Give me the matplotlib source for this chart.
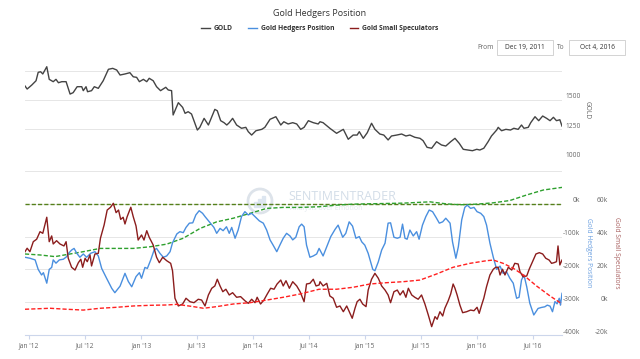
import matplotlib
matplotlib.use("Agg")
import matplotlib.pyplot as plt
import matplotlib.dates as mdates
from matplotlib.patches import Rectangle, Circle
from matplotlib.transforms import ScaledTranslation
import pandas as pd

plt.rcParams['font.family'] = ['Open Sans', 'DejaVu Sans']

# ---------------- data ----------------
start_date = "2011-12-19"
end_date = "2016-10-04"

gold_days = [0, 7, 22, 36, 43, 51, 58, 71, 79, 92, 101, 109, 120, 134, 147, 157, 170, 185, 190, 199,
             204, 217, 226, 239, 255, 272, 286, 299, 310, 326, 342, 353, 364, 373, 386, 397, 405, 418, 429, 442,
             459, 467, 478, 483, 500, 514, 522, 532, 543, 551, 562, 570, 584, 598, 619, 627, 638, 649, 658, 666,
             677, 690, 706, 720, 728, 739, 753, 772, 782, 799, 818, 834, 844, 858, 873, 886, 899, 910, 924, 940,
             956, 962, 972, 994, 1016, 1038, 1054, 1070, 1083, 1090, 1103, 1116, 1130, 1141, 1157, 1170, 1184, 1195, 1212, 1228,
             1242, 1255, 1271, 1288, 1298, 1311, 1326, 1342, 1358, 1372, 1388, 1402, 1416, 1429, 1445, 1459, 1473, 1483, 1496, 1510,
             1521, 1538, 1543, 1554, 1568, 1583, 1594, 1608, 1619, 1627, 1641, 1649, 1663, 1675, 1688, 1701, 1712, 1723, 1733, 1744,
             1751]
gold = [1619, 1593, 1627, 1664, 1736, 1741, 1722, 1784, 1676, 1656, 1676, 1647, 1656, 1656, 1550, 1562, 1613, 1613, 1579, 1613,
        1570, 1579, 1613, 1599, 1664, 1762, 1770, 1756, 1713, 1722, 1733, 1698, 1693, 1656, 1676, 1656, 1685, 1664, 1613, 1579,
        1608, 1585, 1579, 1371, 1476, 1436, 1385, 1399, 1379, 1322, 1242, 1265, 1342, 1285, 1419, 1407, 1322, 1305, 1285, 1305,
        1342, 1285, 1257, 1265, 1228, 1199, 1236, 1248, 1265, 1334, 1356, 1285, 1313, 1294, 1305, 1294, 1248, 1265, 1322, 1305,
        1294, 1313, 1305, 1257, 1214, 1248, 1163, 1199, 1199, 1228, 1171, 1219, 1300, 1248, 1208, 1199, 1157, 1191, 1199, 1208,
        1191, 1199, 1180, 1171, 1151, 1094, 1086, 1142, 1114, 1105, 1142, 1171, 1128, 1077, 1071, 1065, 1077, 1071, 1086, 1142,
        1191, 1242, 1265, 1236, 1248, 1242, 1257, 1248, 1285, 1257, 1265, 1305, 1356, 1322, 1362, 1342, 1322, 1351, 1322, 1330,
        1276]

hedgers_days = [0, 16, 33, 43, 54, 60, 71, 79, 87, 92, 101, 112, 125, 136, 144, 152, 160, 169, 179, 190,
                201, 214, 228, 239, 250, 266, 283, 293, 310, 326, 337, 348, 362, 373, 380, 391, 399, 410, 421, 429,
                440, 451, 462, 473, 481, 495, 505, 516, 525, 536, 547, 557, 568, 579, 587, 601, 616, 625, 636, 646,
                657, 666, 674, 685, 695, 706, 717, 728, 739, 750, 764, 777, 788, 799, 809, 821, 831, 842, 853, 864,
                873, 883, 894, 902, 910, 918, 929, 940, 951, 959, 972, 984, 997, 1011, 1021, 1036, 1046, 1057, 1068, 1079,
                1090, 1098, 1108, 1119, 1134, 1141, 1152, 1163, 1174, 1184, 1192, 1203, 1214, 1223, 1231, 1239, 1246, 1255, 1266, 1277,
                1285, 1296, 1307, 1318, 1329, 1340, 1351, 1362, 1372, 1386, 1394, 1405, 1413, 1424, 1434, 1442, 1453, 1464, 1474, 1486,
                1496, 1505, 1516, 1527, 1538, 1549, 1559, 1570, 1581, 1592, 1603, 1611, 1619, 1627, 1636, 1646, 1659, 1673, 1684, 1695,
                1703, 1712, 1720, 1728, 1735, 1742, 1746, 1751]
hedgers_k = [-163, -166, -171, -200, -217, -210, -242, -200, -194, -171, -181, -171, -169, -161, -149, -141, -136, -151, -163, -153,
             -163, -151, -146, -159, -197, -227, -258, -271, -251, -212, -237, -253, -222, -210, -227, -194, -197, -171, -141, -136,
             -151, -163, -159, -146, -119, -92, -85, -88, -72, -59, -58, -34, -21, -29, -39, -55, -72, -90, -75, -82,
             -70, -90, -72, -105, -80, -39, -24, -34, -29, -39, -52, -59, -80, -110, -126, -146, -126, -105, -90, -98,
             -110, -102, -70, -62, -70, -126, -163, -159, -153, -136, -159, -131, -100, -78, -65, -102, -90, -55, -68, -105,
             -100, -116, -126, -151, -200, -204, -177, -141, -120, -59, -58, -102, -105, -102, -62, -105, -108, -80, -98, -85,
             -108, -65, -39, -19, -24, -41, -59, -55, -44, -59, -116, -166, -131, -49, -11, -4, -14, -11, -24, -29,
             -39, -65, -120, -163, -200, -190, -212, -207, -227, -242, -288, -285, -232, -217, -253, -303, -339, -319, -316, -314,
             -309, -312, -329, -298, -305, -288, -309, -273]

specs_days = [0, 7, 16, 27, 38, 49, 58, 71, 79, 87, 92, 103, 114, 127, 134, 141, 152, 163, 174, 182,
              188, 196, 203, 212, 217, 228, 239, 246, 258, 268, 279, 288, 297, 305, 312, 320, 326, 333, 345, 353,
              362, 369, 380, 388, 397, 405, 418, 429, 438, 449, 462, 475, 481, 489, 500, 514, 525, 538, 551, 565,
              576, 587, 598, 609, 619, 627, 636, 645, 655, 666, 677, 690, 703, 717, 728, 739, 750, 757, 768, 779,
              790, 801, 812, 822, 834, 842, 851, 862, 873, 886, 897, 910, 918, 929, 940, 949, 959,
              962, 972, 984, 994, 1005, 1016, 1027, 1038, 1049, 1060, 1067, 1076, 1083, 1092, 1101, 1112, 1119, 1130, 1141, 1152,
              1163, 1174, 1184, 1192, 1203, 1214, 1223, 1233, 1242, 1250, 1261, 1271, 1282, 1293, 1304, 1315, 1326, 1337, 1344, 1353,
              1362, 1369, 1380, 1388, 1396, 1402, 1409, 1418, 1427, 1440, 1453, 1464, 1474, 1481, 1489, 1496, 1505, 1516, 1527, 1535,
              1543, 1549, 1557, 1565, 1576, 1587, 1597, 1608, 1614, 1624, 1636, 1644, 1655, 1666, 1677, 1688, 1698, 1709, 1717, 1725,
              1733, 1738, 1744, 1751]
specs_k = [30.8, 32.9, 30.8, 36.9, 38.4, 43, 42, 51.8, 36.9, 40.4, 35.5, 37.5, 35.5, 34.3, 36.9, 26.8, 21.3, 19.6, 24.1, 26.2,
           21.3, 26.8, 24.7, 28.8, 22.1, 29.4, 29.8, 39, 47.1, 56.2, 57.9, 60.3, 54.6, 56.2, 50.5, 51.8, 47.7, 52.1, 57.9, 52.1,
           46.5, 37.9, 41, 37.9, 43.6, 39.6, 34.9, 27.4, 24.1, 27.4, 25.3, 23.7, 19.2, 2.4, -2.3, -1.1, 2.4, 0.3, -0.3, 1.8,
           1.3, -2.3, 4.4, 8.5, 9.9, 14, 9.9, 6.4, 7.9, 4.4, 5.8, 3, 3.4, 0.9, -0.7, 1.8, -0.3, 3, -1.1, 1.3,
           5, 8.5, 7.9, 11.1, 13.5, 9.9, 13.1, 8.5, 12.5, 9.9, 6.4, 0.3, 11.1, 11.5, 14, 9.9, 10.5,
           12.5, 9.9, 11.5, 3.8, 2.4, -3.1, -2.3, -5.8, -2.3, -6.8, -9.8, -3.7, 0.3, 1.8, -1.1, -2.7, 7.4, 14, 17.6, 14.6,
           9.9, 7.4, 4.4, -0.3, 6.4, 7.4, 4.4, 7, 3, 8.5, 4.4, 3, 1.8, 4.4, -1.1, -7.8, -14.9, -8.8, -10.4, -5.8,
           -8.4, -3.7, 0.9, 5, 11.1, 8.5, 4.4, -1.7, -6.4, -5.8, -4.8, -5.2, -3.1, -6.8, -1.7, 2.4, 9.5, 16.6, 20.1, 21.3,
           21.3, 16.6, 20.1, 16.6, 21.3, 19.6, 23.7, 23.3, 18.6, 15.5, 16, 20.1, 24.7, 29.4, 30.2, 29.4, 26.8, 25.7, 23.7, 24.1,
           24.7, 34.3, 22.7, 25.7]

hedgers_trend_days = [0, 49, 98, 147, 190, 245, 299, 353, 408, 462, 516, 571, 625, 679, 734, 788,
                      842, 897, 959, 1016, 1070, 1125, 1233, 1320, 1372, 1418, 1474, 1527, 1581, 1636, 1690, 1751]
hedgers_trend_k = [-153, -156, -161, -153, -146, -136, -136, -136, -131, -123, -105, -75, -55, -44, -29, -14,
                   -11, -11, -9, -4, -1, 0, 2, 6, 0, -3, -1, 3, 10, 27, 42, 50]

specs_trend_days = [0, 82, 136, 190, 245, 299, 353, 408, 462, 495, 549, 582, 625, 679, 734, 788, 842, 897,
                    959, 1016, 1070, 1125, 1179, 1233, 1288, 1342, 1396, 1451, 1505, 1527, 1559, 1592, 1625, 1668, 1712, 1751]
specs_trend_k = [-4.3, -3.7, -4.3, -4.8, -3.7, -3.1, -2.3, -1.9, -1.7, -1.3, -2.7, -3.7, -2.7, -1.1, -0.3, 1.3, 3, 5,
                 7.9, 7.9, 9.1, 11.1, 11.9, 12.5, 13.5, 17.2, 21.3, 23.7, 25.3, 25.7, 23.7, 20.7, 16.6, 9.9, 3.8, -1.1]

hedgers_reference_k = 0

gold_ticks = [1000, 1250, 1500, 1750]
gold_tick_labels = ['1000', '1250', '1500', '']
hedger_ticks = [0, -100, -200, -300, -400]
hedger_tick_labels = ['0k', '-100k', '-200k', '-300k', '-400k']
spec_ticks = [60, 40, 20, 0, -20]
spec_tick_labels = ['60k', '40k', '20k', '0k', '-20k']

# ---------------- figure ----------------
W, H = 640, 359
start = pd.Timestamp(start_date)
end = pd.Timestamp(end_date)


def to_dates(days):
    return start + pd.to_timedelta(days, unit='D')


def rect(x0, y0, x1, y1):
    return [x0 / W, 1 - y1 / H, (x1 - x0) / W, (y1 - y0) / H]


fig = plt.figure(figsize=(6.4, 3.59), dpi=100, facecolor='white')

# overlay (decorations)
ov = fig.add_axes([0, 0, 1, 1], zorder=0)
ov.set_xlim(0, W)
ov.set_ylim(H, 0)
ov.axis('off')

GRID = '#e6e6e6'
AXC = '#ccd6eb'
LBL = '#666666'
FS = 4.8

ax_g = fig.add_axes(rect(25, 62, 562, 158.3), zorder=2)
ax_h = fig.add_axes(rect(25, 171, 562, 335), zorder=2)
ax_s = ax_h.twinx()
for a in (ax_g, ax_h, ax_s):
    a.patch.set_alpha(0)
    for s in a.spines.values():
        s.set_visible(False)
    a.set_xlim(start, end)

# gold pane
gold_line, = ax_g.plot(to_dates(gold_days), gold, color='#444444', lw=1.0, label='GOLD')
ax_g.set_ylim(1000, 1000 + 96.3 * 750 / 87.6)
ax_g.set_yticks(gold_ticks)
ax_g.grid(axis='y', color=GRID, lw=0.7)
ax_g.set_axisbelow(True)
ax_g.tick_params(left=False, labelleft=False, bottom=False, labelbottom=False)
off = ScaledTranslation(0, 0.03, fig.dpi_scale_trans)
for v, l in zip(gold_ticks, gold_tick_labels):
    ax_g.text(1.0056, v, l, transform=ax_g.get_yaxis_transform() + off,
              ha='left', va='center', fontsize=FS, color=LBL)
ax_g.text(1.0466, 0.5, 'GOLD', transform=ax_g.transAxes, rotation=270,
          ha='center', va='center', fontsize=FS, color=LBL)

# lower pane
ax_h.set_ylim(-400, 100)
ax_s.set_ylim(-20, 80)
ax_h.set_yticks([-300, -200, -100, 0, 100])
ax_h.grid(axis='y', color=GRID, lw=0.7)
ax_h.set_axisbelow(True)
ax_h.tick_params(left=False, labelleft=False, right=False, labelright=False)
ax_s.tick_params(left=False, labelleft=False, right=False, labelright=False)
ax_s.set_yticks([])
ax_h.spines['bottom'].set_visible(True)
ax_h.spines['bottom'].set_color(AXC)
ax_h.spines['bottom'].set_linewidth(0.8)

ax_h.axhline(hedgers_reference_k, color='#55801a', lw=1.0, ls=(0, (3, 1.5)), zorder=2)
ax_h.plot(to_dates(hedgers_trend_days), hedgers_trend_k, color='#2ea02e', lw=1.0,
          ls=(0, (3, 1.5)), zorder=2)
hedge_line, = ax_h.plot(to_dates(hedgers_days), hedgers_k, color='#4a8fdf', lw=1.0,
                        label='Gold Hedgers Position', zorder=3)
spec_line, = ax_s.plot(to_dates(specs_days), specs_k, color='#8b1d1d', lw=1.0,
                       label='Gold Small Speculators', zorder=3)
ax_s.plot(to_dates(specs_trend_days), specs_trend_k, color='#ff2020', lw=1.0,
          ls=(0, (3, 1.5)), zorder=4)

for v, l in zip(hedger_ticks, hedger_tick_labels):
    ax_h.text(1.0335, v, l, transform=ax_h.get_yaxis_transform() + off,
              ha='right', va='center', fontsize=FS, color=LBL)
for v, l in zip(spec_ticks, spec_tick_labels):
    ax_s.text(1.0857, v, l, transform=ax_s.get_yaxis_transform() + off,
              ha='right', va='center', fontsize=FS, color=LBL)
ax_h.text(1.0485, 0.5, 'Gold Hedgers Position', transform=ax_h.transAxes, rotation=270,
          ha='center', va='center', fontsize=FS, color='#6a9fe0')
ax_h.text(1.1006, 0.5, 'Gold Small Speculators', transform=ax_h.transAxes, rotation=270,
          ha='center', va='center', fontsize=FS, color='#a86060')

ax_h.xaxis.set_major_locator(mdates.MonthLocator(bymonth=[1, 7]))
ax_h.xaxis.set_major_formatter(mdates.DateFormatter("%b '%y"))
ax_h.tick_params(axis='x', length=3, width=0.8, color=AXC, labelsize=FS,
                 labelcolor=LBL, pad=2)

# title, legend, range selector
fig.text(0.5, 1 - 13 / H, 'Gold Hedgers Position', ha='center', va='center',
         fontsize=6.5, color='#333333')
fig.legend(handles=[gold_line, hedge_line, spec_line], loc='center',
           bbox_to_anchor=(0.5, 1 - 29 / H), ncol=3, frameon=False,
           prop={'weight': 'bold', 'size': 4.9}, labelcolor='#333333',
           handlelength=1.3, handletextpad=0.6, columnspacing=2.2)

ov.text(494, 47.5, 'From', ha='right', va='center', fontsize=FS, color=LBL)
ov.add_patch(Rectangle((497, 40), 56, 15, fill=False, ec='#cccccc', lw=0.6))
ov.text(525, 47.5, 'Dec 19, 2011', ha='center', va='center', fontsize=FS, color='#333333')
ov.text(565, 47.5, 'To', ha='right', va='center', fontsize=FS, color=LBL)
ov.add_patch(Rectangle((569, 40), 56, 15, fill=False, ec='#cccccc', lw=0.6))
ov.text(597, 47.5, 'Oct 4, 2016', ha='center', va='center', fontsize=FS, color='#333333')

# watermark
ov.add_patch(Circle((260, 201), 12, fill=False, ec='#dde3ea', lw=2.0))
for bx, bh in [(254, 5), (258, 8), (262, 11)]:
    ov.add_patch(Rectangle((bx, 207 - bh), 3, bh, color='#dde6f0'))
ov.text(288, 196, 'SENTIMENTRADER', ha='left', va='center', fontsize=9,
        color='#d3dde8')
ov.text(290, 208, 'Analysis over Emotion', ha='left', va='center', fontsize=5,
        color='#e3e8ee')

fig.savefig('out.png', dpi=100, facecolor='white')
